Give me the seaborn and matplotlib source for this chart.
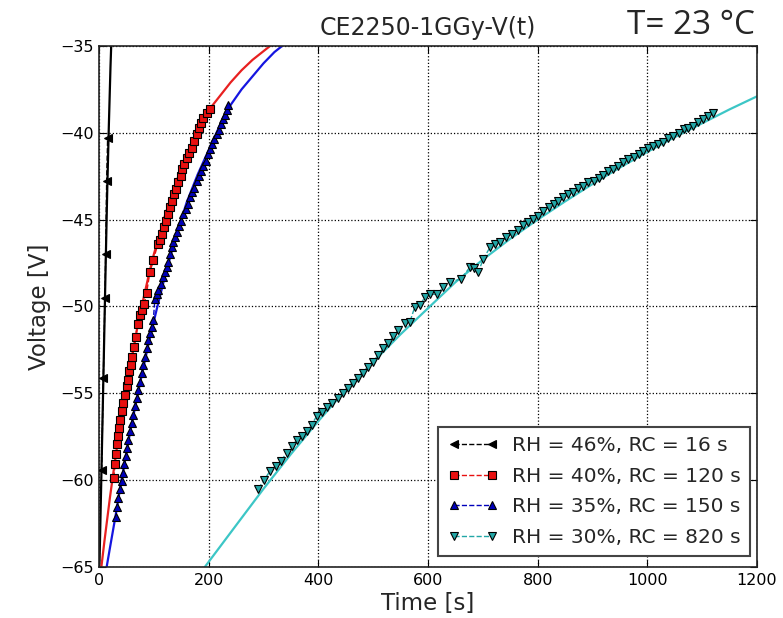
import matplotlib
matplotlib.use("Agg")
import matplotlib.pyplot as plt
import seaborn as sns
import pandas as pd

# ---------------- data ----------------
labels = ["RH = 46%, RC = 16 s", "RH = 40%, RC = 120 s",
          "RH = 35%, RC = 150 s", "RH = 30%, RC = 820 s"]

# RH 46 % (measured)
t46 = [4.9, 7.9, 10.9, 12.2, 14.0, 15.8]
v46 = [-59.4, -54.1, -49.5, -47.0, -42.8, -40.3]
# RH 46 % (fit)
t46_fit = [0, 4, 8, 12, 15, 18, 21, 24]
v46_fit = [-66.2, -60.3, -54.2, -47.9, -43.4, -39.6, -36.2, -33.4]

# RH 40 % (measured)
t40 = [27.4, 29.2, 31.0, 33.4, 35.3, 36.5, 38.9, 41.3, 44.4, 47.4, 50.5, 52.3,
       55.3, 58.4, 60.8, 64.4, 66.9, 70.5, 74.8, 77.8, 82.7, 86.9, 93.0, 99.1,
       107.0, 111.2, 114.3, 118.5, 121.6, 125.2, 129.5, 132.5, 136.8, 140.4,
       144.7, 149.5, 152.0, 155.6, 159.9, 164.7, 169.0, 173.9, 178.1, 182.4,
       186.0, 190.3, 196.4, 202.4]
v40 = [-59.85, -59.09, -58.52, -57.94, -57.47, -56.99, -56.51, -56.03, -55.56,
       -55.08, -54.6, -54.22, -53.74, -53.36, -52.88, -52.31, -51.74, -50.98,
       -50.5, -50.21, -49.83, -49.2, -48.0, -47.35, -46.43, -46.16, -45.82,
       -45.44, -45.06, -44.67, -44.29, -43.91, -43.53, -43.24, -42.86, -42.48,
       -42.1, -41.77, -41.43, -41.14, -40.86, -40.48, -40.09, -39.71, -39.42,
       -39.14, -38.85, -38.62]
# RH 40 % (fit)
t40_fit = [4, 10, 20, 30, 40, 50, 60, 70, 80, 90, 100, 120, 140, 160, 180,
           200, 220, 240, 260, 280, 300, 320]
v40_fit = [-65.1, -63.5, -61.0, -58.7, -56.6, -54.65, -52.9, -51.2, -49.7,
           -48.3, -47.0, -44.8, -42.9, -41.25, -39.85, -38.7, -37.9, -37.1,
           -36.4, -35.8, -35.3, -34.8]

# RH 35 % (measured)
t35 = [30.4, 32.8, 35.3, 37.7, 41.3, 43.8, 46.2, 48.6, 51.1, 53.5, 56.5, 59.6,
       62.6, 65.6, 68.7, 71.7, 74.8, 77.8, 80.8, 83.9, 86.9, 90.0, 93.0, 96.0,
       99.1, 102.1, 105.2, 108.2, 113.1, 117.3, 120.4, 123.4, 126.4, 129.5,
       132.5, 135.6, 138.6, 141.6, 145.9, 149.5, 153.8, 158.0, 161.7, 166.0,
       170.2, 173.9, 178.1, 182.4, 186.0, 190.3, 195.1, 199.4, 202.4, 206.7,
       210.3, 214.6, 218.8, 221.9, 225.5, 229.8, 232.8, 235.9]
v35 = [-62.14, -61.57, -61.0, -60.52, -60.04, -59.57, -59.09, -58.61, -58.13,
       -57.66, -57.18, -56.7, -56.22, -55.75, -55.27, -54.79, -54.32, -53.84,
       -53.36, -52.88, -52.41, -51.93, -51.55, -51.17, -50.78, -49.54, -49.3,
       -49.07, -48.68, -48.3, -48.02, -47.73, -47.44, -46.97, -46.58, -46.3,
       -46.01, -45.72, -45.34, -45.06, -44.67, -44.39, -44.1, -43.72, -43.43,
       -43.15, -42.77, -42.48, -42.19, -41.91, -41.62, -41.24, -40.95, -40.67,
       -40.38, -40.09, -39.81, -39.52, -39.23, -38.95, -38.66, -38.37]
# RH 35 % (fit)
t35_fit = [14, 20, 30, 40, 50, 60, 75, 90, 105, 120, 140, 160, 180, 200, 220,
           240, 260, 280, 300, 320, 340]
v35_fit = [-65.0, -63.9, -62.1, -60.2, -58.4, -56.7, -54.4, -52.2, -50.2,
           -48.3, -46.0, -44.0, -42.4, -41.0, -39.6, -38.4, -37.5, -36.75,
           -36.0, -35.35, -34.85]

# RH 30 % (measured)
t30 = [290.6, 301.5, 311.9, 322.2, 331.9, 342.3, 351.4, 360.5, 369.6, 378.7,
       387.8, 397.0, 406.0, 415.0, 425.5, 436.5, 445.6, 454.7, 463.8, 473.0,
       482.0, 491.0, 500.0, 509.4, 518.5, 527.7, 536.8, 545.9, 558.0, 567.0,
       576.0, 585.4, 594.5, 603.6, 615.8, 628, 640, 661, 677, 683, 692, 701,
       713, 722, 731, 743, 753, 765, 774, 783, 792, 801, 810, 820, 829, 838,
       847, 856, 865, 874, 883, 892, 902, 911, 920, 929, 938, 947, 956, 965,
       975, 984, 993, 1002, 1011, 1020, 1029, 1038, 1047, 1057, 1066, 1075,
       1084, 1093, 1102, 1111, 1120]
v30 = [-60.48, -59.98, -59.47, -59.18, -58.9, -58.42, -58.04, -57.7, -57.47,
       -57.18, -56.8, -56.32, -56.09, -55.79, -55.56, -55.27, -54.98, -54.7,
       -54.41, -54.12, -53.84, -53.46, -53.17, -52.79, -52.41, -52.12, -51.7,
       -51.36, -50.97, -50.88, -50.02, -49.93, -49.45, -49.3, -49.3, -48.9,
       -48.6, -48.4, -47.7, -47.8, -48.0, -47.25, -46.6, -46.4, -46.3, -46.0,
       -45.8, -45.6, -45.3, -45.15, -44.96, -44.77, -44.48, -44.29, -44.1,
       -43.9, -43.7, -43.5, -43.4, -43.2, -43.05, -42.86, -42.77, -42.6, -42.4,
       -42.2, -42.1, -41.9, -41.7, -41.5, -41.4, -41.24, -41.05, -40.86, -40.76,
       -40.67, -40.5, -40.3, -40.2, -40.0, -39.8, -39.7, -39.6, -39.4, -39.2,
       -39.04, -38.85]
# RH 30 % (fit)
t30_fit = [193, 250, 300, 350, 400, 450, 500, 550, 600, 650, 700, 750, 800,
           850, 900, 950, 1000, 1050, 1100, 1150, 1200]
v30_fit = [-65.0, -62.6, -60.5, -58.5, -56.6, -54.8, -53.2, -51.6, -50.1,
           -48.6, -47.3, -46.1, -45.0, -43.95, -42.95, -42.0, -41.1, -40.25,
           -39.45, -38.65, -37.9]

x_ticks = [0, 200, 400, 600, 800, 1000, 1200]
y_ticks = [-65, -60, -55, -50, -45, -40, -35]

# ---------------- styling ----------------
sns.set_style("white")
plt.rcParams["font.family"] = ["DejaVu Sans"]

fig = plt.figure(figsize=(7.83, 6.18), dpi=100)
ax = fig.add_axes([0.1264, 0.0825, 0.8404, 0.8431])

series = [
    (t46, v46, t46_fit, v46_fit, "<", "#000000", "#000000"),
    (t40, v40, t40_fit, v40_fit, "s", "#e81010", "#e82020"),
    (t35, v35, t35_fit, v35_fit, "^", "#0000bb", "#1515e0"),
    (t30, v30, t30_fit, v30_fit, "v", "#22a7a7", "#3cc6c6"),
]

# fits first (below markers)
for t, v, tf, vf, mk, mc, lc in series:
    dff = pd.DataFrame({"t": tf, "v": vf})
    sns.lineplot(data=dff, x="t", y="v", ax=ax, color=lc, linewidth=1.6,
                 sort=False, estimator=None, legend=False, zorder=2)

handles = []
for (t, v, tf, vf, mk, mc, lc), lab in zip(series, labels):
    df = pd.DataFrame({"t": t, "v": v})
    n0 = len(ax.lines)
    sns.lineplot(data=df, x="t", y="v", ax=ax, color=mc, linewidth=1.0,
                 linestyle="--", marker=mk, markersize=6,
                 markerfacecolor=mc, markeredgecolor="black",
                 markeredgewidth=0.8, sort=False, estimator=None,
                 legend=False, zorder=3)
    handles.append(ax.lines[n0])

ax.set_xlim(0, 1200)
ax.set_ylim(-65, -35)
ax.set_xticks(x_ticks)
ax.set_yticks(y_ticks)
ax.set_xticklabels([str(x) for x in x_ticks], fontsize=11.5)
ax.set_yticklabels(["\u2212" + str(abs(y)) for y in y_ticks], fontsize=11.5)
ax.tick_params(direction="in", length=5, width=0.8, top=True, right=True,
               bottom=True, left=True, colors="black", pad=4)
ax.grid(True, linestyle=":", color="black", linewidth=0.9)
for s in ax.spines.values():
    s.set_visible(True)
    s.set_color("#222222")
    s.set_linewidth(1.2)

ax.set_xlabel("Time [s]", fontsize=16.5, labelpad=3)
ax.set_ylabel("Voltage [V]", fontsize=16.5, labelpad=6)
ax.set_title("CE2250-1GGy-V(t)", fontsize=17, pad=8)

leg = ax.legend(handles, labels, loc="lower right", numpoints=2,
                fontsize=14.5, fancybox=False, framealpha=1,
                edgecolor="#444444", handlelength=2.5, handletextpad=0.7,
                borderpad=0.45, labelspacing=0.58, borderaxespad=0,
                bbox_to_anchor=(0.989, 0.021))
leg.get_frame().set_linewidth(1.5)

fig.text(0.964, 0.958, "T= 23 \u00b0C", ha="right", va="center",
         fontsize=24, family=["Open Sans", "DejaVu Sans"])

fig.savefig("out.png", dpi=100)
